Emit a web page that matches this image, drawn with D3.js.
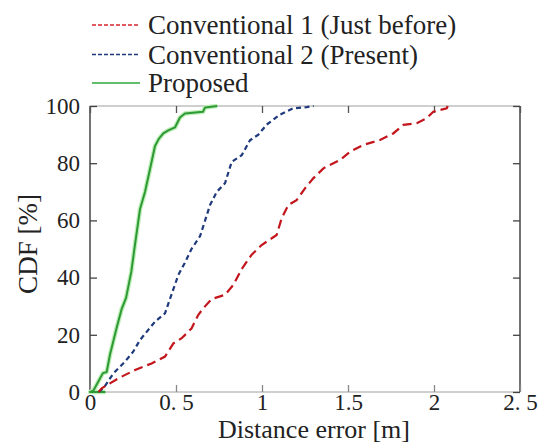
<!DOCTYPE html>
<html>
<head>
<meta charset="utf-8">
<script src="https://cdn.jsdelivr.net/npm/d3@7"></script>
<style>
  html, body { margin: 0; padding: 0; background: #fff; }
  svg text { font-family: "Liberation Serif", "Times New Roman", serif; fill: #222; }
</style>
</head>
<body>
<svg id="chart" width="545" height="444"></svg>
<script>
// Distance error (m) and cumulative share (%) for each method
const conv1Err = [0.05, 0.068, 0.165, 0.262, 0.358, 0.436, 0.485, 0.533, 0.59, 0.63, 0.659, 0.707, 0.785, 0.833, 0.882, 0.94, 0.998, 1.085, 1.114, 1.153, 1.201, 1.25, 1.298, 1.357, 1.453, 1.512, 1.589, 1.686, 1.763, 1.822, 1.9, 1.957, 1.996, 2.074, 2.08];
const conv1Cdf = [0, 1.3, 4.8, 7.7, 10, 12.4, 17, 18.8, 22.2, 27, 29.3, 32.5, 34, 37.4, 43, 48, 51.4, 54.9, 60.7, 65.4, 67.1, 71.2, 74.7, 78.2, 81.1, 84, 86.4, 88.1, 90.4, 93.4, 94, 95.7, 98, 99.2, 100];

const conv2Err = [0.05, 0.078, 0.136, 0.203, 0.25, 0.291, 0.378, 0.436, 0.479, 0.514, 0.55, 0.59, 0.64, 0.698, 0.737, 0.785, 0.824, 0.882, 0.93, 0.979, 1.027, 1.105, 1.182, 1.26, 1.3];
const conv2Cdf = [0, 1.3, 6.5, 10.6, 14, 18.2, 24.6, 27.5, 35, 41, 45, 50, 54.5, 65.4, 70, 73, 80.5, 82.8, 88, 90, 93.5, 97, 99.2, 99.6, 100];

const propErr = [0.09, 0, 0.02, 0.075, 0.097, 0.116, 0.155, 0.184, 0.21, 0.24, 0.258, 0.291, 0.32, 0.349, 0.378, 0.4, 0.426, 0.455, 0.494, 0.523, 0.552, 0.657, 0.669, 0.74];
const propCdf = [0, 0, 0.5, 6.6, 7, 13, 22.5, 29, 33, 42, 50, 64, 70, 78, 86, 88.5, 90.4, 91.5, 92.5, 96, 97.4, 98, 99.5, 100];

const xTicks = [0, 0.5, 1, 1.5, 2, 2.5];
const xTickLabels = ["0", "0. 5", "1", "1.5", "2", "2. 5"];
const yTicks = [0, 20, 40, 60, 80, 100];

const seriesNames = ["Conventional 1 (Just before)", "Conventional 2 (Present)", "Proposed"];

const svg = d3.select("#chart");
const plotL = 90, plotR = 520, plotT = 106, plotB = 392;

const x = d3.scaleLinear().domain([0, 2.5]).range([plotL, plotR]);
const y = d3.scaleLinear().domain([0, 100]).range([plotB, plotT]);

// frame: light top/bottom rules, dark side rules
const frame = svg.append("g");
frame.append("line").attr("x1", plotL).attr("x2", plotR).attr("y1", plotT).attr("y2", plotT).attr("stroke", "#cfcfcf").attr("stroke-width", 2);
frame.append("line").attr("x1", plotL).attr("x2", plotR).attr("y1", plotB).attr("y2", plotB).attr("stroke", "#cfcfcf").attr("stroke-width", 2);
frame.append("line").attr("x1", plotL).attr("x2", plotL).attr("y1", plotT).attr("y2", plotB).attr("stroke", "#444").attr("stroke-width", 1.5);
frame.append("line").attr("x1", plotR).attr("x2", plotR).attr("y1", plotT).attr("y2", plotB).attr("stroke", "#444").attr("stroke-width", 1.5);

// axes with inward ticks
const axLeft = svg.append("g").attr("transform", `translate(${plotL},0)`)
  .call(d3.axisLeft(y).tickValues(yTicks).tickSizeInner(-7).tickSizeOuter(0).tickPadding(10));
const axRight = svg.append("g").attr("transform", `translate(${plotR},0)`)
  .call(d3.axisRight(y).tickValues(yTicks).tickSizeInner(-7).tickSizeOuter(0).tickFormat(""));
const axBottom = svg.append("g").attr("transform", `translate(0,${plotB})`)
  .call(d3.axisBottom(x).tickValues(xTicks).tickSizeInner(-7).tickSizeOuter(0).tickPadding(3)
    .tickFormat((d, i) => xTickLabels[i]));
const axTop = svg.append("g").attr("transform", `translate(0,${plotT})`)
  .call(d3.axisTop(x).tickValues(xTicks).tickSizeInner(-7).tickSizeOuter(0).tickFormat(""));

[axLeft, axRight, axBottom, axTop].forEach(g => g.select(".domain").remove());
axLeft.selectAll(".tick line").attr("stroke", "#444").attr("stroke-width", 1.3);
axRight.selectAll(".tick line").attr("stroke", "#444").attr("stroke-width", 1.3);
axBottom.selectAll(".tick line").attr("stroke", "#888").attr("stroke-width", 1.3);
axTop.selectAll(".tick line").attr("stroke", "#555").attr("stroke-width", 1.3);
svg.selectAll(".tick text").style("font-family", '"Liberation Serif", serif').style("font-size", "23px").attr("fill", "#222");
axBottom.selectAll(".tick text").attr("dy", "0.66em");

// curves
const line = d3.line().x(d => x(d[0])).y(d => y(d[1]));
const pairs = (xs, ys) => xs.map((v, i) => [v, ys[i]]);

svg.append("path").datum(pairs(propErr, propCdf)).attr("d", line)
  .attr("fill", "none").attr("stroke", "#bdeeb6").attr("stroke-width", 4.5).attr("stroke-linejoin", "round");
svg.append("path").datum(pairs(propErr, propCdf)).attr("d", line)
  .attr("fill", "none").attr("stroke", "#2e9a35").attr("stroke-width", 2).attr("stroke-linejoin", "round");

svg.append("path").datum(pairs(conv2Err, conv2Cdf)).attr("d", line)
  .attr("fill", "none").attr("stroke", "#1e3a7c").attr("stroke-width", 2.2).attr("stroke-dasharray", "5,3.5");

svg.append("path").datum(pairs(conv1Err, conv1Cdf)).attr("d", line)
  .attr("fill", "none").attr("stroke", "#c3161c").attr("stroke-width", 2.2).attr("stroke-dasharray", "9,5");

// legend
const legend = svg.append("g");
const legendStyles = [
  { color: "#d6262b", dash: "4,2" },
  { color: "#1e3a7c", dash: "4,2" },
  { color: "#2ea838", dash: null }
];
const legendBase = [34, 63.5, 92];
seriesNames.forEach((name, i) => {
  const by = legendBase[i];
  const ln = legend.append("line").attr("x1", 92).attr("x2", 140).attr("y1", by - 9).attr("y2", by - 9)
    .attr("stroke", legendStyles[i].color).attr("stroke-width", 1.6);
  if (legendStyles[i].dash) ln.attr("stroke-dasharray", legendStyles[i].dash);
  legend.append("text").attr("x", 148).attr("y", by).style("font-size", "27px").text(name);
});

// axis titles
svg.append("text").attr("x", 314).attr("y", 438).attr("text-anchor", "middle")
  .style("font-size", "26px").text("Distance error [m]");
svg.append("text").attr("transform", "translate(37,244) rotate(-90)").attr("text-anchor", "middle")
  .style("font-size", "27px").text("CDF [%]");
</script>
</body>
</html>
